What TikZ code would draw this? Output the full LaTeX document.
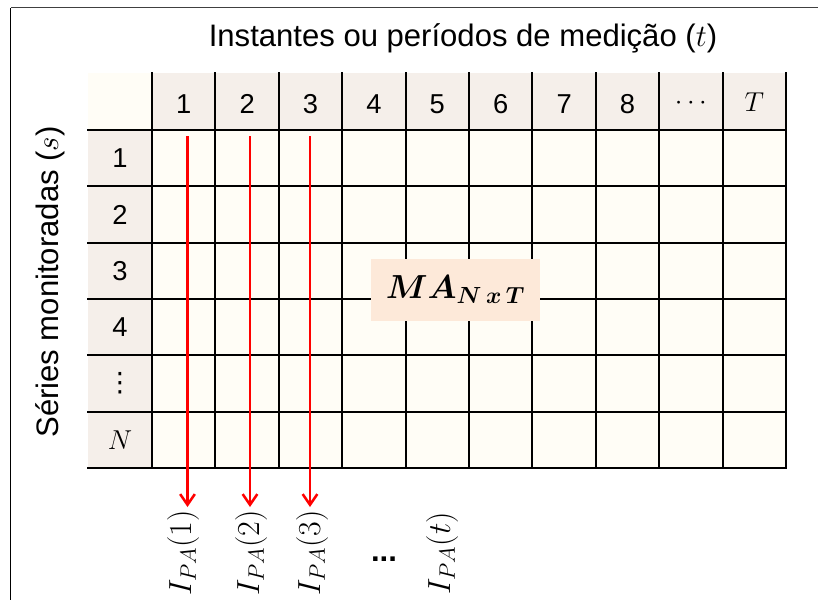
\RequirePackage{fix-cm}
\documentclass[tikz,border=0pt]{standalone}
\usepackage[no-math]{fontspec}
\setmainfont{Liberation Sans}
\newfontfamily\djv{DejaVu Sans}
\usepackage{bm}
\usetikzlibrary{arrows.meta}
\definecolor{hdr}{HTML}{F5EFEA}
\definecolor{cell}{HTML}{FFFDF6}
\definecolor{mabox}{HTML}{FDE9D9}
\begin{document}
\begin{tikzpicture}[x=0.75pt,y=-0.75pt,
  gridline/.style={line width=1.5pt,black,line cap=rect},
  hnum/.style={font=\fontsize{20.5}{20.5}\selectfont,inner sep=0pt},
  bigtxt/.style={font=\fontsize{23.3}{23.3}\selectfont},
  arr/.style={red,line width=1.9pt,-{Straight Barb[length=8pt,width=11pt,line width=1.9pt]}},
  lab/.style={rotate=90,anchor=east,inner sep=0pt,font=\fontsize{24}{24}\selectfont}]
\useasboundingbox (0,0) rectangle (818,600);
\fill[white] (0,0) rectangle (818,600);
% frame
\draw[line width=1.3pt,black!75] (10.5,7.5) -- (818,7.5);
\draw[line width=1.3pt,black] (10.5,600) -- (10.5,7.5);
% fills
\fill[hdr] (152,73) rectangle (786,130);
\fill[hdr] (88,130) rectangle (152,468);
\fill[cell] (88,73) rectangle (152,130);
\fill[cell] (152,130) rectangle (786,468);
% grid
\foreach \k in {0,...,10} \draw[gridline] ({152+63.4*\k},73) -- ({152+63.4*\k},468);
\foreach \j in {0,...,6} \draw[gridline] (88,{130+56.33*\j}) -- (786,{130+56.33*\j});
% titles
\node[bigtxt] (title) at (463,38) {Instantes ou períodos de medição (\(t\))};
\node[bigtxt,rotate=90] (stitle) at (50,282) {Séries monitoradas (\(s\))};
% header
\foreach \t [count=\k] in {1,...,8}
  \node[hnum] (h\k) at ({152+63.4*(\k-0.5)},104) {\t};
\node[hnum] (h9) at ({152+63.4*8.5},103) {\(\cdots\)};
\node[hnum] (h10) at ({152+63.4*9.5},102) {\(T\)};
% row labels
\foreach \t [count=\k] in {1,...,4}
  \node[hnum] (r\k) at (120,{130+56.33*(\k-0.5)}) {\t};
\node[inner sep=0pt,font=\djv\fontsize{20}{20}\selectfont] (r5) at (120,{130+56.33*4.5}) {⋮};
\node[hnum] (r6) at (120,{130+56.33*5.5}) {\(N\)};
% matrix label
\node[fill=mabox,minimum width=126.75pt,minimum height=46.5pt,inner sep=0pt,
      font=\fontsize{25}{25}\selectfont] (ma) at (455.5,290) {\(\bm{MA_{N\,x\,T}}\)};
% arrows
\coordinate (s1) at (187.5,136);
\coordinate (e1) at (187.5,507);
\coordinate (s2) at (250,136);
\coordinate (e2) at (250,507);
\coordinate (s3) at (310,136);
\coordinate (e3) at (310,507);
\draw[arr] (s1) -- (e1);
\draw[arr] (s2) -- (e2);
\draw[arr] (s3) -- (e3);
% output labels
\node[lab] (l1) at (183,510) {\(I_{PA}(1)\)};
\node[lab] (l2) at (251,510) {\(I_{PA}(2)\)};
\node[lab] (l3) at (312,510) {\(I_{PA}(3)\)};
\node[bigtxt,inner sep=0pt] (ld) at (384,559) {\textbf{...}};
\node[lab] (lt) at (442,512) {\(I_{PA}(t)\)};
\end{tikzpicture}
\end{document}
